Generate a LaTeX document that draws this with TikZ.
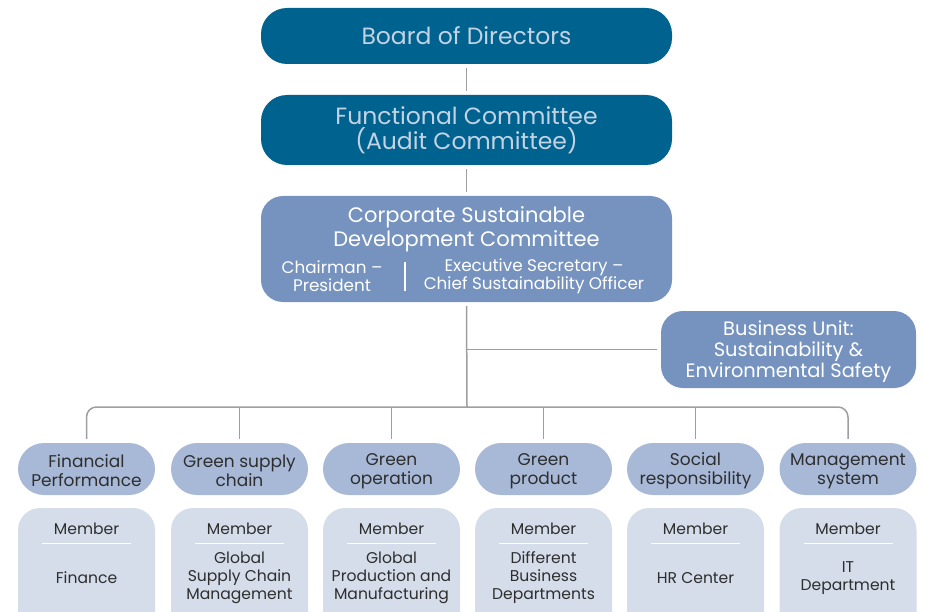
\documentclass[tikz,border=0pt]{standalone}
\usepackage{fontspec}
\setmainfont{Poppins}
\usetikzlibrary{calc}

\definecolor{boardblue}{HTML}{00628F}
\definecolor{boardtext}{HTML}{C3D3E4}
\definecolor{corpblue}{HTML}{7593BE}
\definecolor{catblue}{HTML}{A8B9D8}
\definecolor{memberblue}{HTML}{D5DDEB}
\definecolor{ink}{HTML}{2E2E2E}
\definecolor{linkgrey}{HTML}{9E9E9E}

\tikzset{
  topbox/.style={fill=boardblue, text=boardtext, rounded corners=26pt, minimum width=411pt, inner sep=0pt, align=center, font=\fontsize{23.5}{25}\selectfont},
  corpbox/.style={fill=corpblue, rounded corners=22pt, inner sep=0pt},
  corptext/.style={text=white, align=center, inner sep=0pt},
  catbox/.style={fill=catblue, rounded corners=26pt, minimum width=137pt, minimum height=52pt, inner sep=0pt},
  cattext/.style={text=ink, inner sep=0pt, align=center, font=\fontsize{17}{19}\selectfont},
  memberbox/.style={fill=memberblue, rounded corners=22pt, minimum width=137pt, minimum height=130pt, inner sep=0pt},
  memtext/.style={text=ink, inner sep=0pt, align=center, font=\fontsize{15.6}{18}\selectfont},
  link/.style={draw=linkgrey, line width=1.5pt, shorten <=4pt, shorten >=4pt},
}

\begin{document}
\begin{tikzpicture}[x=1pt,y=-1pt]
\useasboundingbox (0,0) rectangle (925,612);
\clip (0,0) rectangle (925,612);

\node[topbox, minimum height=56pt] (board) at (466.5,36) {Board of Directors};
\node[topbox, minimum height=70pt] (func) at (466.5,130) {Functional Committee\\(Audit Committee)};

\node[corpbox, minimum width=411pt, minimum height=106pt] (corp) at (466.5,249) {};
\node[corptext, font=\fontsize{21}{24}\selectfont] (corptitle) at (466.5,229) {Corporate Sustainable\\Development Committee};
\node[corptext, font=\fontsize{16.8}{18}\selectfont] (chair) at (332,276) {Chairman –\\President};
\node[corptext, font=\fontsize{16.8}{18}\selectfont] (secr) at (534,276) {Executive Secretary –\\Chief Sustainability Officer};
\draw[white, line width=1.2pt] (405,262) -- (405,291);

\node[corpbox, minimum width=255pt, minimum height=77pt] (unit) at (788.5,349.5) {};
\node[corptext, font=\fontsize{19.4}{21}\selectfont] (unitlabel) at (788.5,351.5) {Business Unit:\\Sustainability \&\\Environmental Safety};

\coordinate (bus) at (467,407);

\foreach \n/\x/\name/\dept in {
  1/86.5/{Financial\\Performance}/{Finance},
  2/239.5/{Green supply\\chain}/{Global\\Supply Chain\\Management},
  3/391.5/{Green\\operation}/{Global\\Production and\\Manufacturing},
  4/543.5/{Green\\product}/{Different\\Business\\Departments},
  5/695.5/{Social\\responsibility}/{HR Center},
  6/848/{Management\\system}/{IT\\Department}} {
  \node[catbox] (cat\n) at (\x,469) {};
  \node[cattext] (catlabel\n) at (\x,471) {\name};
  \node[memberbox] (mem\n) at (\x,573) {};
  \node[memtext] (memlabel\n) at (\x,529) {Member};
  \draw[white, line width=1.2pt] ($(mem\n.north)+(-44.5,36)$) -- ($(mem\n.north)+(44.5,36)$);
  \node[memtext] (dept\n) at (\x,578) {\dept};
}

\draw[link] (board) -- (func);
\draw[link] (func) -- (corp);
\draw[link, shorten >=0pt] (corp.south) -- (bus);
\draw[link, shorten <=0pt] (corp.south |- unit.west) -- (unit.west);
\draw[link, rounded corners=10pt] (cat1.north) |- (bus) -| (cat6.north);
\foreach \n in {2,...,5}
  \draw[link, shorten <=0pt] (cat\n.north |- bus) -- (cat\n.north);
\end{tikzpicture}
\end{document}
